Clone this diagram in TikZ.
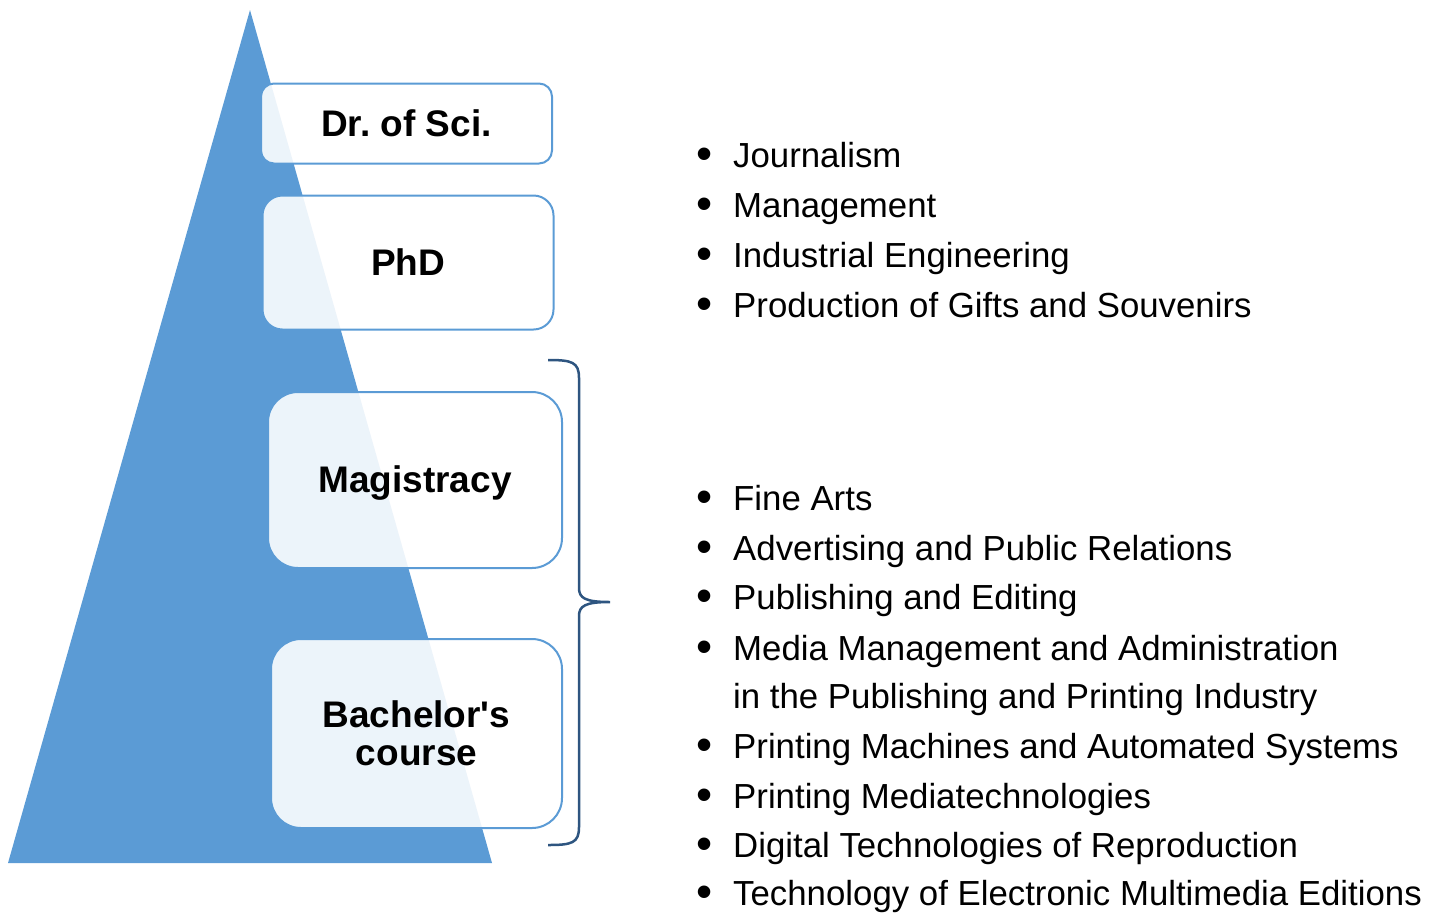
\documentclass[tikz,border=0pt]{standalone}
\usepackage{fontspec}
\setmainfont{Liberation Sans}
\definecolor{pyrblue}{HTML}{5B9BD5}
\definecolor{bracecol}{HTML}{2E5580}
\newcommand{\listfont}{\fontsize{34.8}{50}\selectfont}
\newcommand{\boxfont}{\bfseries\fontsize{37}{38}\selectfont}
\newcommand{\bul}{\makebox[36pt][l]{\hspace{-1pt}\fontsize{46}{46}\selectfont\raisebox{-2pt}[0pt][0pt]{•}}}
\begin{document}
\begin{tikzpicture}[x=1pt,y=-1pt]
		\tikzset{level/.style = {draw=pyrblue, line width=2pt, fill=white, fill opacity=0.89, text opacity=1, align=center, font=\boxfont, inner sep=0pt}}
		\tikzset{item/.style = {anchor=base west, inner sep=0pt, font=\listfont}}
		
		\useasboundingbox (0,0) rectangle (1442,914);
		\fill[pyrblue] (250,10) -- (492,863) -- (8,863) -- cycle;
		
		\node[level, minimum width=291, minimum height=80,  rounded corners=13] (1) at (406.5,123.5) {Dr.\ of Sci.};
		\node[level, minimum width=291, minimum height=134, rounded corners=20] (2) at (408,262.5)   {PhD};
		\node[level, minimum width=294, minimum height=176, rounded corners=30] (3) at (415,480)     {\raisebox{-12pt}[0pt][0pt]{Magistracy}};
		\node[level, minimum width=291, minimum height=189, rounded corners=30] (4) at (416.5,733.5) {Bachelor\textquotesingle s\\course};
		
		\node[item]  (5) at (697,167) {\bul Journalism};
		\node[item]  (6) at (697,217) {\bul Management};
		\node[item]  (7) at (697,267) {\bul Industrial Engineering};
		\node[item]  (8) at (697,317) {\bul Production of Gifts and Souvenirs};
		
		\node[item]  (9) at (697,510) {\bul Fine Arts};
		\node[item] (10) at (697,560) {\bul Advertising and Public Relations};
		\node[item] (11) at (697,609) {\bul Publishing and Editing};
		\node[item] (12) at (697,660) {\bul Media Management and Administration};
		\node[item] (13) at (733,708) {in the Publishing and Printing Industry};
		\node[item] (14) at (697,758) {\bul Printing Machines and Automated Systems};
		\node[item] (15) at (697,808) {\bul Printing Mediatechnologies};
		\node[item] (16) at (697,857) {\bul Digital Technologies of Reproduction};
		\node[item] (17) at (697,905) {\bul Technology of Electronic Multimedia Editions};
		
		\draw[bracecol, line width=2.5pt] (548,360) .. controls (572,360) and (579,362) .. (579,378) -- (579,588)
			.. controls (579,598) and (585,602) .. (610,602) .. controls (585,602) and (579,606) .. (579,616)
			-- (579,827) .. controls (579,843) and (572,845) .. (548,845);
		\end{tikzpicture}
\end{document}
